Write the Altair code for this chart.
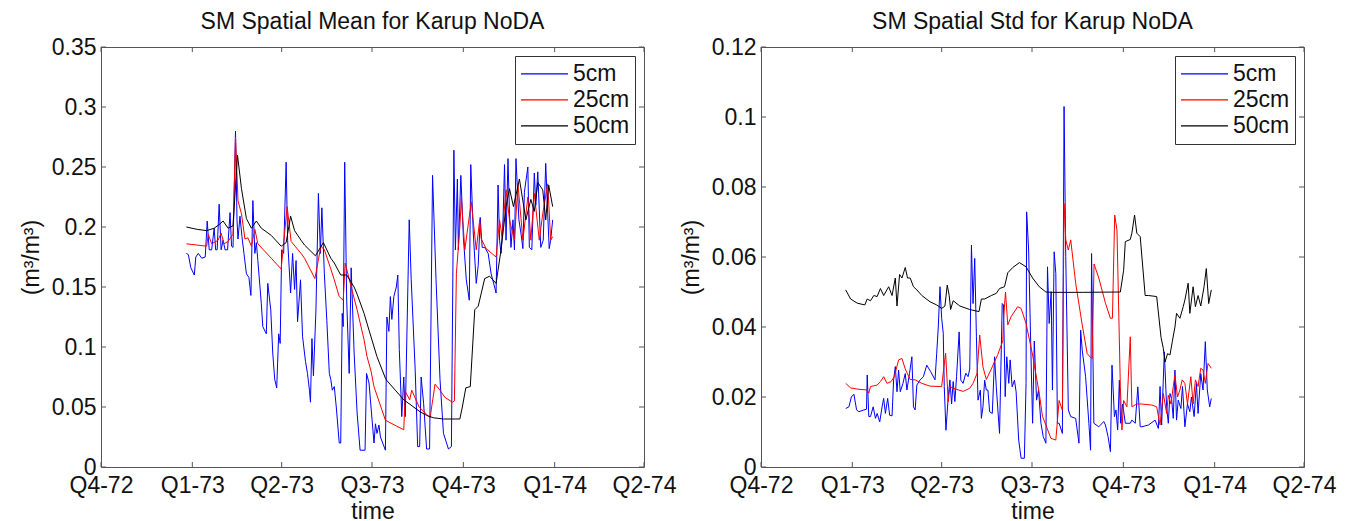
import altair as alt
import pandas as pd

# ---------------- axis definitions ----------------
QUARTER_DAYS = [-92, 0, 90, 181, 273, 365, 455]          # days since 1973-01-01
QUARTER_LABELS = ["Q4-72", "Q1-73", "Q2-73", "Q3-73", "Q4-73", "Q1-74", "Q2-74"]
DEPTHS = ["5cm", "25cm", "50cm"]
COLORS = ["#0000ff", "#ff0000", "#000000"]
MEAN_TICKS = [0, 0.05, 0.1, 0.15, 0.2, 0.25, 0.3, 0.35]
STD_TICKS = [0, 0.02, 0.04, 0.06, 0.08, 0.1, 0.12]

# ---------------- spatial mean ----------------
MEAN_5_DAYS = [-6, -4, -1.5, 2, 3.5, 6, 9.5, 13, 15, 17, 19.5, 22, 23.5, 25, 27, 29, 31, 33, 35.5, 38,
               39.5, 41, 43.5, 45, 46, 48, 50, 52, 54.5, 57, 59, 61, 63, 64.5, 66, 69.5, 71, 74.5, 76, 79,
               81, 83, 85, 87, 88.5, 90, 92, 94.5, 96, 99, 101, 103, 104.5, 106, 109, 111, 114, 116, 118, 119,
               120.5, 122, 124.5, 127, 129, 130.5, 133, 135.5, 138, 139.5, 141, 143, 145, 148, 149.5, 151, 152,
               153.5, 155.5, 158, 160, 163, 166, 169, 174, 175.5, 178, 183, 184.5, 186, 188, 189.5, 194.5, 196,
               198, 199.5, 201, 203, 205.5, 207, 208.5, 211, 213, 214.5, 218.5, 220.5, 224.5, 227, 229, 230.5,
               233, 236, 239, 242, 245.5, 249.5, 253, 258, 261, 263.5, 265, 267, 268, 270.5, 273, 276, 279,
               280.5, 283, 286, 288, 290, 292, 294.5, 298, 301, 304.5, 306, 308, 309.5, 311, 313, 314.5, 316,
               318, 319.5, 321, 323, 324.5, 326, 329, 331, 333, 334.5, 338, 339.5, 342, 344.5, 346, 348, 351,
               353.5, 356, 358, 359.5, 361, 363]
MEAN_5_VALS = [0.178, 0.177, 0.166, 0.160, 0.175, 0.178, 0.174, 0.175, 0.205, 0.181, 0.181, 0.199, 0.181, 0.181,
               0.219, 0.181, 0.189, 0.181, 0.181, 0.212, 0.184, 0.183, 0.280, 0.206, 0.190, 0.209, 0.192, 0.178,
               0.161, 0.158, 0.143, 0.222, 0.178, 0.187, 0.172, 0.136, 0.117, 0.111, 0.153, 0.131, 0.095, 0.073,
               0.066, 0.111, 0.103, 0.181, 0.178, 0.254, 0.189, 0.145, 0.178, 0.148, 0.172, 0.121, 0.156, 0.109,
               0.088, 0.078, 0.064, 0.054, 0.107, 0.076, 0.130, 0.228, 0.178, 0.216, 0.161, 0.122, 0.078, 0.073,
               0.064, 0.067, 0.050, 0.020, 0.020, 0.128, 0.117, 0.254, 0.139, 0.078, 0.166, 0.095, 0.045, 0.014,
               0.014, 0.078, 0.070, 0.020, 0.036, 0.028, 0.035, 0.025, 0.014, 0.125, 0.113, 0.142, 0.123, 0.142,
               0.150, 0.160, 0.098, 0.042, 0.075, 0.042, 0.206, 0.156, 0.081, 0.017, 0.017, 0.075, 0.053, 0.015,
               0.015, 0.243, 0.156, 0.073, 0.028, 0.015, 0.017, 0.264, 0.181, 0.240, 0.181, 0.243, 0.192, 0.156,
               0.139, 0.252, 0.195, 0.153, 0.168, 0.208, 0.183, 0.183, 0.178, 0.161, 0.150, 0.145, 0.235, 0.189,
               0.178, 0.206, 0.252, 0.189, 0.257, 0.211, 0.183, 0.206, 0.181, 0.257, 0.206, 0.195, 0.182, 0.229,
               0.250, 0.183, 0.181, 0.245, 0.218, 0.246, 0.183, 0.189, 0.253, 0.211, 0.182, 0.189, 0.206]

MEAN_25_DAYS = [-6, 14.5, 16, 19.5, 26, 29, 32, 36, 41, 43.5, 46, 49.5, 53, 56, 59.5, 63, 66, 79.5, 89.5, 95.5,
                99.5, 109.5, 113, 123.5, 129.5, 133, 139.5, 143, 148, 152, 154, 160, 166, 173, 176, 180, 183,
                194.5, 206, 213, 214.5, 219, 221, 228.5, 239.5, 244.5, 249.5, 254.5, 262, 264, 266, 269.5, 271,
                274.5, 281, 286, 289.5, 291, 296, 306, 309.5, 312, 316, 319.5, 324.5, 328, 333, 338, 341, 344.5,
                349.5, 353, 358, 361, 363]
MEAN_25_VALS = [0.186, 0.184, 0.194, 0.186, 0.189, 0.195, 0.186, 0.188, 0.194, 0.275, 0.222, 0.211, 0.190, 0.191,
                0.184, 0.198, 0.186, 0.174, 0.165, 0.217, 0.188, 0.178, 0.174, 0.157, 0.184, 0.181, 0.165, 0.156,
                0.142, 0.139, 0.170, 0.150, 0.131, 0.106, 0.092, 0.080, 0.067, 0.039, 0.034, 0.031, 0.063, 0.056,
                0.064, 0.050, 0.041, 0.069, 0.064, 0.058, 0.054, 0.055, 0.161, 0.200, 0.224, 0.181, 0.221, 0.181,
                0.206, 0.190, 0.182, 0.175, 0.206, 0.192, 0.231, 0.206, 0.189, 0.236, 0.189, 0.225, 0.189, 0.228,
                0.189, 0.211, 0.236, 0.189, 0.192]

MEAN_50_DAYS = [-6, 5, 14.5, 22, 27, 31, 36, 41, 45.5, 49.5, 54.5, 59.5, 64.5, 69.5, 79.5, 89.5, 94.5, 99, 103,
                109.5, 113, 124, 132, 139.5, 143, 149.5, 155.5, 163, 166, 173, 178, 186, 194.5, 196, 213, 229.5,
                236, 243, 253, 269.5, 272, 275.5, 280, 284.5, 288, 294.5, 299.5, 306, 311, 316, 319.5, 323.5,
                329.5, 336, 341, 344.5, 348, 353, 356, 359, 363]
MEAN_50_VALS = [0.200, 0.198, 0.197, 0.199, 0.202, 0.205, 0.199, 0.201, 0.260, 0.232, 0.207, 0.199, 0.205, 0.199,
                0.193, 0.184, 0.187, 0.209, 0.197, 0.189, 0.185, 0.176, 0.187, 0.174, 0.170, 0.160, 0.160, 0.150,
                0.144, 0.128, 0.114, 0.092, 0.074, 0.072, 0.056, 0.046, 0.043, 0.041, 0.040, 0.040, 0.050, 0.066,
                0.067, 0.131, 0.134, 0.157, 0.159, 0.153, 0.181, 0.217, 0.232, 0.217, 0.240, 0.206, 0.223, 0.213,
                0.237, 0.231, 0.206, 0.235, 0.217]

# ---------------- spatial std ----------------
STD_5_DAYS = [-6.7, -3.4, -1, 1.6, 4.3, 6.6, 11.6, 14.3, 15, 16.6, 18.3, 21, 23.3, 25, 27.6, 30, 31.6, 33.3, 35.6,
              37.6, 40, 41.6, 43.3, 45, 46.6, 48.3, 51, 53.3, 55, 57.6, 60, 61.6, 63.3, 65, 68.3, 71.6, 75, 79,
              83.3, 85, 86.6, 88.3, 90, 91.6, 92.6, 94.3, 96.6, 98.3, 100, 101.6, 103.3, 105, 107.6, 109.3, 111.6,
              114.3, 116.6, 118.3, 120, 121.6, 123.3, 125, 126.6, 129, 130, 131.6, 133.3, 135, 136.6, 138.3, 141,
              143.3, 145, 148.3, 151, 152.3, 154, 155.6, 157.6, 159, 161, 163.3, 165, 167.6, 170, 173.3, 175,
              175.6, 177.6, 180, 181.6, 183.3, 185.6, 187.6, 190, 192.3, 195, 196.6, 198.3, 200.3, 201.6, 203.3,
              205, 206.6, 208.3, 211.6, 213.3, 215, 217.6, 220, 225, 228.3, 230, 231.6, 235, 238.3, 240, 241,
              243.3, 248.3, 253.3, 255, 257.6, 260, 261.6, 264, 265.6, 267.3, 269, 270.3, 272.3, 275, 280, 281.6,
              285, 287.6, 290, 291.6, 298.3, 305, 308.3, 310, 311.6, 314.3, 316.6, 318.3, 320, 321.6, 323.3, 325,
              326.6, 328.3, 331, 332.6, 335, 337.6, 340, 341.6, 344.3, 346.6, 348.3, 351, 353.3, 355.6, 357.6,
              360, 361.6]
STD_5_VALS = [0.0167, 0.0172, 0.0200, 0.0208, 0.0163, 0.0158, 0.0163, 0.0165, 0.0263, 0.0144, 0.0144, 0.0172,
              0.0139, 0.0153, 0.0129, 0.0172, 0.0196, 0.0153, 0.0196, 0.0148, 0.0146, 0.0249, 0.0287, 0.0215,
              0.0277, 0.0215, 0.0239, 0.0267, 0.0220, 0.0267, 0.0315, 0.0172, 0.0163, 0.0234, 0.0249, 0.0258,
              0.0291, 0.0272, 0.0249, 0.0325, 0.0400, 0.0515, 0.0425, 0.0382, 0.0230, 0.0105, 0.0200, 0.0249,
              0.0180, 0.0244, 0.0187, 0.0258, 0.0386, 0.0248, 0.0239, 0.0268, 0.0258, 0.0280, 0.0634, 0.0467,
              0.0596, 0.0372, 0.0191, 0.0220, 0.0139, 0.0172, 0.0248, 0.0220, 0.0220, 0.0158, 0.0153, 0.0315,
              0.0229, 0.0096, 0.0467, 0.0463, 0.0201, 0.0315, 0.0239, 0.0306, 0.0229, 0.0248, 0.0215, 0.0077,
              0.0025, 0.0025, 0.0239, 0.0729, 0.0620, 0.0315, 0.0125, 0.0360, 0.0191, 0.0220, 0.0125, 0.0087,
              0.0068, 0.0572, 0.0410, 0.0501, 0.0220, 0.0615, 0.0553, 0.0125, 0.0125, 0.0096, 0.1030, 0.0601,
              0.0163, 0.0144, 0.0139, 0.0068, 0.0391, 0.0334, 0.0258, 0.0125, 0.0048, 0.0610, 0.0125, 0.0115,
              0.0130, 0.0120, 0.0087, 0.0044, 0.0291, 0.0144, 0.0163, 0.0106, 0.0248, 0.0125, 0.0180, 0.0125,
              0.0125, 0.0134, 0.0125, 0.0229, 0.0115, 0.0115, 0.0120, 0.0134, 0.0110, 0.0230, 0.0120, 0.0329,
              0.0172, 0.0125, 0.0210, 0.0196, 0.0139, 0.0277, 0.0134, 0.0191, 0.0167, 0.0230, 0.0115, 0.0180,
              0.0158, 0.0200, 0.0144, 0.0239, 0.0153, 0.0267, 0.0220, 0.0358, 0.0220, 0.0172, 0.0196]

STD_25_DAYS = [-6.7, -1.7, 6.6, 15, 16.6, 18.3, 25, 28.3, 31.6, 35, 39, 42.3, 46.6, 50, 53.3, 58.3, 63.3, 70, 78.3,
               90, 92.3, 94, 96.6, 98.3, 101.6, 111.6, 118.3, 121.6, 125.6, 128.3, 131.6, 135, 140, 146.6, 151.6,
               152.3, 154.3, 156.6, 160, 166.6, 170, 175, 181.6, 188.3, 191.6, 195, 200, 205, 208.3, 211.6, 213.3,
               215, 217.6, 220, 225, 231.6, 236.6, 240, 241.6, 243.5, 248.3, 255, 260, 262, 264.3, 266.6, 270,
               271.6, 273.3, 276.6, 280, 281.6, 286.6, 291.6, 301.6, 306.6, 310, 313.3, 316.6, 318.3, 321, 323.3,
               325, 327.6, 330, 332.3, 335, 337.6, 341, 343.3, 345.6, 348.3, 351, 353.3, 355.6, 358.3, 361.6]
STD_25_VALS = [0.0239, 0.0226, 0.0222, 0.0220, 0.0211, 0.0230, 0.0234, 0.0244, 0.0258, 0.0239, 0.0244, 0.0258,
               0.0306, 0.0310, 0.0280, 0.0250, 0.0249, 0.0239, 0.0231, 0.0230, 0.0286, 0.0325, 0.0187, 0.0230,
               0.0225, 0.0216, 0.0225, 0.0239, 0.0267, 0.0377, 0.0286, 0.0250, 0.0280, 0.0322, 0.0360, 0.0420,
               0.0500, 0.0406, 0.0430, 0.0458, 0.0453, 0.0410, 0.0320, 0.0210, 0.0144, 0.0120, 0.0082, 0.0077,
               0.0190, 0.0162, 0.0753, 0.0649, 0.0620, 0.0649, 0.0525, 0.0406, 0.0324, 0.0313, 0.0310, 0.0580,
               0.0540, 0.0468, 0.0425, 0.0425, 0.0720, 0.0677, 0.0229, 0.0106, 0.0190, 0.0172, 0.0372, 0.0172,
               0.0180, 0.0180, 0.0177, 0.0172, 0.0120, 0.0210, 0.0153, 0.0205, 0.0180, 0.0230, 0.0263, 0.0200,
               0.0220, 0.0249, 0.0239, 0.0180, 0.0258, 0.0180, 0.0249, 0.0230, 0.0282, 0.0277, 0.0239, 0.0296,
               0.0282]

STD_50_DAYS = [-6.7, -1.7, 5, 12.6, 15, 18.3, 21.6, 25, 28.3, 31.6, 36.6, 40, 43.3, 45, 47.6, 50, 53.3, 55.6, 58.3,
               61.6, 65, 70, 78.3, 85, 90, 93.3, 95.6, 97.6, 99, 101.6, 108.3, 118.3, 127.6, 130, 133.3, 140, 145,
               148.3, 153.3, 156.6, 161.6, 168.3, 175, 181.6, 188.3, 195, 201.6, 231.6, 270, 273.3, 275, 280,
               281.6, 284.3, 286.6, 290, 295, 298.3, 306.6, 311, 313.3, 315, 317.6, 320, 322.3, 325, 326.6, 330,
               333.3, 335, 338.3, 340, 343.3, 345.6, 348.3, 351, 354.3, 356.6, 359, 361.6]
STD_50_VALS = [0.0506, 0.0480, 0.0468, 0.0463, 0.0480, 0.0475, 0.0490, 0.0487, 0.0510, 0.0490, 0.0515, 0.0490,
               0.0540, 0.0460, 0.0550, 0.0540, 0.0570, 0.0540, 0.0540, 0.0515, 0.0506, 0.0490, 0.0472, 0.0463,
               0.0453, 0.0460, 0.0520, 0.0490, 0.0450, 0.0475, 0.0460, 0.0450, 0.0444, 0.0480, 0.0480, 0.0490,
               0.0496, 0.0510, 0.0515, 0.0555, 0.0570, 0.0584, 0.0572, 0.0540, 0.0515, 0.0500, 0.0499, 0.0499,
               0.0500, 0.0562, 0.0644, 0.0650, 0.0668, 0.0720, 0.0668, 0.0658, 0.0490, 0.0490, 0.0487, 0.0370,
               0.0339, 0.0300, 0.0324, 0.0320, 0.0358, 0.0400, 0.0439, 0.0425, 0.0458, 0.0477, 0.0525, 0.0439,
               0.0515, 0.0458, 0.0490, 0.0460, 0.0515, 0.0567, 0.0467, 0.0506]


def make_df(series):
    frames = []
    for depth, (days, vals) in zip(DEPTHS, series):
        frames.append(pd.DataFrame({"day": days, "value": vals, "depth": depth}))
    return pd.concat(frames, ignore_index=True)


mean_df = make_df([(MEAN_5_DAYS, MEAN_5_VALS), (MEAN_25_DAYS, MEAN_25_VALS), (MEAN_50_DAYS, MEAN_50_VALS)])
std_df = make_df([(STD_5_DAYS, STD_5_VALS), (STD_25_DAYS, STD_25_VALS), (STD_50_DAYS, STD_50_VALS)])

label_expr = "".join(f"datum.value < {d + 1} ? '{l}' : " for d, l in zip(QUARTER_DAYS, QUARTER_LABELS)) + "''"

W, H = 543, 420
AX = "#555555"
TXT = "#111111"
FONT = "Liberation Sans"
FS = 23


def panel(df, ymax, yticks, title):
    xscale = alt.Scale(domain=[QUARTER_DAYS[0], QUARTER_DAYS[-1]], nice=False, zero=False)
    yscale = alt.Scale(domain=[0, ymax], nice=False, zero=False)
    xaxis = alt.Axis(values=QUARTER_DAYS, labelExpr=label_expr, title="time", ticks=False,
                     domain=False, grid=False, labelPadding=7, titlePadding=3, labelFlush=False)
    yaxis = alt.Axis(values=yticks, labelExpr="format(datum.value, '~g')", title="(m³/m³)", ticks=False,
                     domain=False, grid=False, labelPadding=5, titlePadding=8)
    X = alt.X("day:Q", scale=xscale, axis=xaxis)
    Y = alt.Y("value:Q", scale=yscale, axis=yaxis)
    lines = alt.Chart(df).mark_line(strokeWidth=1, clip=True).encode(
        x=X, y=Y,
        color=alt.Color("depth:N", sort=DEPTHS, scale=alt.Scale(domain=DEPTHS, range=COLORS),
                        legend=alt.Legend(title=None, orient="top-right", offset=9, symbolType="stroke",
                                          symbolSize=2209, symbolStrokeWidth=1.3, labelFontSize=FS,
                                          labelColor=TXT, clipHeight=25.7, padding=5, rowPadding=0,
                                          labelOffset=4, strokeColor="#333333", fillColor="white")),
    )
    xt = pd.DataFrame({"day": QUARTER_DAYS})
    yt = pd.DataFrame({"value": yticks})
    tx_b = alt.Chart(xt).mark_rule(color=AX, strokeWidth=1).encode(
        x=X, y=alt.value(H), y2=alt.value(H - 5))
    tx_t = alt.Chart(xt).mark_rule(color=AX, strokeWidth=1).encode(
        x=X, y=alt.value(0), y2=alt.value(5))
    ty_l = alt.Chart(yt).mark_rule(color=AX, strokeWidth=1).encode(
        y=Y, x=alt.value(0), x2=alt.value(5))
    ty_r = alt.Chart(yt).mark_rule(color=AX, strokeWidth=1).encode(
        y=Y, x=alt.value(W - 5), x2=alt.value(W))
    return alt.layer(lines, tx_b, tx_t, ty_l, ty_r).properties(
        width=W, height=H,
        title=alt.TitleParams(title, fontSize=FS, fontWeight="normal", offset=2, anchor="middle", color=TXT),
    )


left = panel(mean_df, 0.35, MEAN_TICKS, "SM Spatial Mean for Karup NoDA")
right = panel(std_df, 0.12, STD_TICKS, "SM Spatial Std for Karup NoDA")

chart = (
    alt.hconcat(left, right, spacing=117, bounds="flush")
    .resolve_scale(color="independent")
    .resolve_legend(color="independent")
    .properties(padding={"left": 11, "top": 2, "right": 5, "bottom": 0})
    .configure(font=FONT)
    .configure_view(stroke=AX, strokeWidth=1)
    .configure_axis(labelFontSize=FS, titleFontSize=FS, titleFontWeight="normal",
                    labelColor=TXT, titleColor=TXT, labelFont=FONT, titleFont=FONT)
    .configure_legend(labelFont=FONT)
    .configure_title(font=FONT)
)

chart.save("out.html", embed_options={"renderer": "svg", "actions": False})
